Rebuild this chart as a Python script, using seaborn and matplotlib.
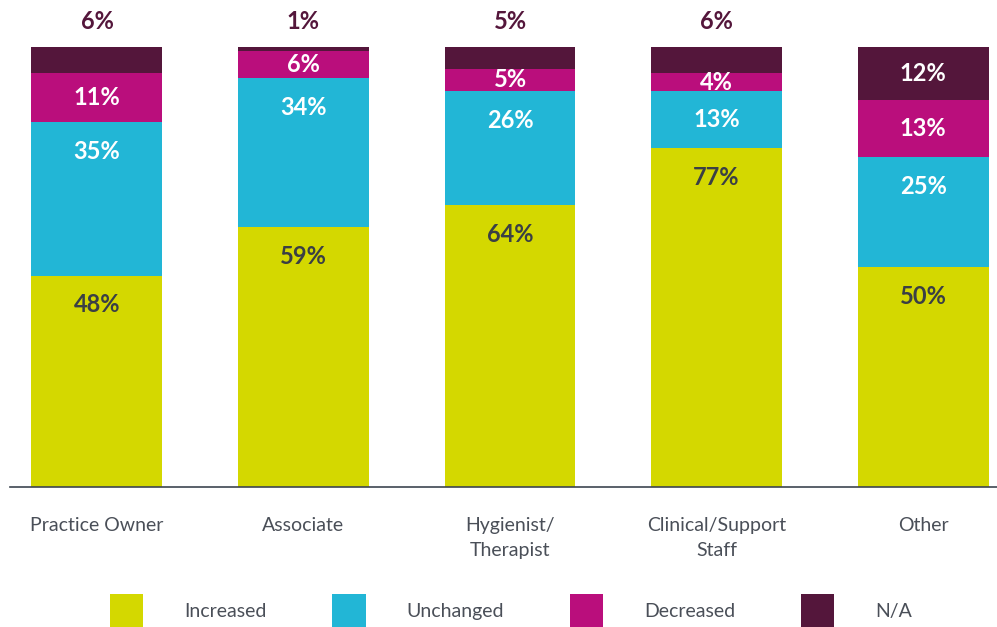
import pandas as pd
import matplotlib.pyplot as plt
import seaborn as sns
from matplotlib.patches import Patch

# datos del gráfico
categorias = ['Practice Owner', 'Associate', 'Hygienist/\nTherapist',
              'Clinical/Support\nStaff', 'Other']
series = ['Increased', 'Unchanged', 'Decreased', 'N/A']
increased = [48, 59, 64, 77, 50]
unchanged = [35, 34, 26, 13, 25]
decreased = [11, 6, 5, 4, 13]
na = [6, 1, 5, 6, 12]

colores = ['#d4d800', '#22b6d6', '#ba0e7c', '#54163b']
texto_color = ['#3a3f45', 'white', 'white', 'white']

sns.set_style('white')
plt.rcParams['font.family'] = ['Lato', 'DejaVu Sans']

fig = plt.figure(figsize=(9.97, 6.27), dpi=100)
ax = fig.add_axes([10 / 997, 1 - 486.5 / 627, 987 / 997, 486.5 / 627])

valores = [increased, unchanged, decreased, na]
base = [0] * len(categorias)
for nombre, vals, col, tcol in zip(series, valores, colores, texto_color):
    df = pd.DataFrame({'cat': categorias, 'val': vals})
    sns.barplot(data=df, x='cat', y='val', order=categorias, color=col,
                width=0.634, bottom=base, errorbar=None, ax=ax,
                saturation=1, edgecolor='none', linewidth=0)
    for i, v in enumerate(vals):
        top = base[i] + v
        if nombre == 'N/A' and v < 8:
            ax.text(i, 105.7, f'{v}%', ha='center', va='center',
                    fontsize=17, fontweight='bold', color='#54163b')
        else:
            y = top - min(6.7, v / 2)
            ax.text(i, y, f'{v}%', ha='center', va='center',
                    fontsize=17, fontweight='bold', color=tcol)
    base = [b + v for b, v in zip(base, vals)]

ax.set_xlim(-0.421, 4.358)
ax.set_ylim(0, 110.7)
ax.set_xlabel('')
ax.set_ylabel('')
ax.set_yticks([])
ax.tick_params(axis='x', length=0, pad=22, labelsize=14, labelcolor='#4a4f58')
for lab in ax.get_xticklabels():
    lab.set_va('top')
    lab.set_linespacing(1.55)
for s in ['top', 'right', 'left']:
    ax.spines[s].set_visible(False)
ax.spines['bottom'].set_color('#3d4550')
ax.spines['bottom'].set_linewidth(1.2)

handles = [Patch(facecolor=c, edgecolor='none', label=s) for s, c in zip(series, colores)]
fig.legend(handles=handles, loc='center', bbox_to_anchor=(0.5125, 1 - 611 / 627),
           ncol=4, frameon=False, fontsize=14, labelcolor='#4a4f58',
           handlelength=1.7, handleheight=2.25, handletextpad=2.1,
           columnspacing=3.4, borderpad=0)

fig.savefig('out.png', dpi=100)
plt.close()
